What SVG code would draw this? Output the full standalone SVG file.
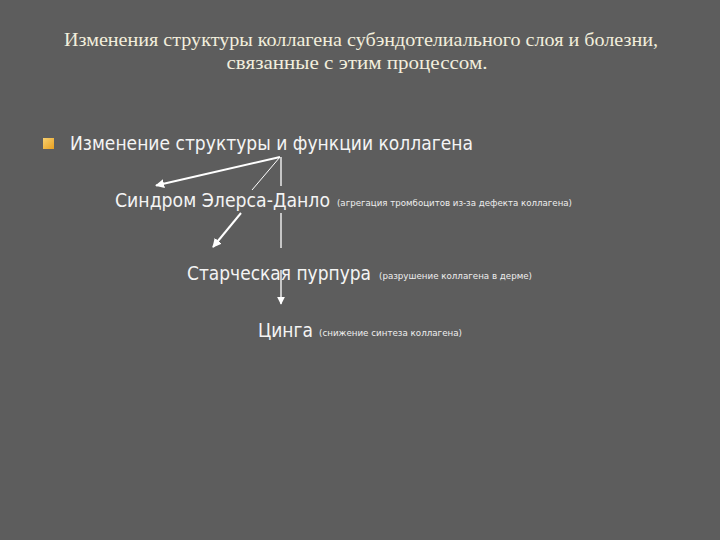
<svg xmlns="http://www.w3.org/2000/svg" width="720" height="540" viewBox="0 0 720 540">
<defs>
<marker id="ah" viewBox="0 0 10 10" refX="9" refY="5" markerWidth="4.5" markerHeight="4.5" orient="auto" markerUnits="strokeWidth">
<path d="M0,0 L10,5 L0,10 z" fill="#ffffff"/>
</marker>
<marker id="ahv" viewBox="0 0 10 10" refX="9" refY="5" markerWidth="6" markerHeight="6" orient="auto" markerUnits="strokeWidth">
<path d="M0,0 L10,5 L0,10 z" fill="#ffffff"/>
</marker>
<linearGradient id="bul" x1="0" y1="0" x2="1" y2="1">
<stop offset="0" stop-color="#f8d070"/>
<stop offset="1" stop-color="#e8a020"/>
</linearGradient>
</defs>
<style>
.title{font-family:"Liberation Serif","Times New Roman",serif;font-size:19px;fill:#f2eedc;text-anchor:middle}
.big{font-family:"DejaVu Sans","Verdana",sans-serif;fill:#f4f4f4}
.small{font-family:"DejaVu Sans","Verdana",sans-serif;font-size:8.5px;fill:#eeeeee}
.ln{stroke:#ffffff;fill:none}
</style>
<rect x="0" y="0" width="720" height="540" fill="#5d5d5d"/>
<g id="title">
<text class="title" x="361" y="46" textLength="594" lengthAdjust="spacingAndGlyphs">Изменения структуры коллагена субэндотелиального слоя и болезни,</text>
<text class="title" x="357" y="69" textLength="261" lengthAdjust="spacingAndGlyphs">связанные с этим процессом.</text>
</g>
<g id="bullet-item">
<rect x="43" y="138" width="11" height="11" fill="url(#bul)"/>
<text class="big" x="70" y="150" font-size="19" textLength="403" lengthAdjust="spacingAndGlyphs">Изменение структуры и функции коллагена</text>
</g>
<g id="connectors">
<line class="ln" x1="280" y1="157" x2="156" y2="185.5" stroke-width="2" marker-end="url(#ah)"/>
<line class="ln" x1="280" y1="157" x2="252" y2="190" stroke-width="1"/>
<line class="ln" x1="241" y1="213" x2="213" y2="247" stroke-width="2" marker-end="url(#ah)"/>
<line class="ln" x1="281" y1="157" x2="281" y2="186" stroke-width="1.3"/>
<line class="ln" x1="281" y1="213" x2="281" y2="248" stroke-width="1.3"/>
<line class="ln" x1="281" y1="270" x2="281" y2="304" stroke-width="1.3" marker-end="url(#ahv)"/>
</g>
<g id="node-ehlers">
<text class="big" x="115" y="207" font-size="19" textLength="215" lengthAdjust="spacingAndGlyphs">Синдром Элерса-Данло</text>
<text class="small" x="337" y="206" textLength="235" lengthAdjust="spacingAndGlyphs">(агрегация тромбоцитов из-за дефекта коллагена)</text>
</g>
<g id="node-purpura">
<text class="big" x="187" y="280" font-size="19" textLength="184" lengthAdjust="spacingAndGlyphs">Старческая пурпура</text>
<text class="small" x="379" y="279" textLength="153" lengthAdjust="spacingAndGlyphs">(разрушение коллагена в дерме)</text>
</g>
<g id="node-scurvy">
<text class="big" x="258" y="337" font-size="19" textLength="55" lengthAdjust="spacingAndGlyphs">Цинга</text>
<text class="small" x="319" y="336" textLength="143" lengthAdjust="spacingAndGlyphs">(снижение синтеза коллагена)</text>
</g>
</svg>
